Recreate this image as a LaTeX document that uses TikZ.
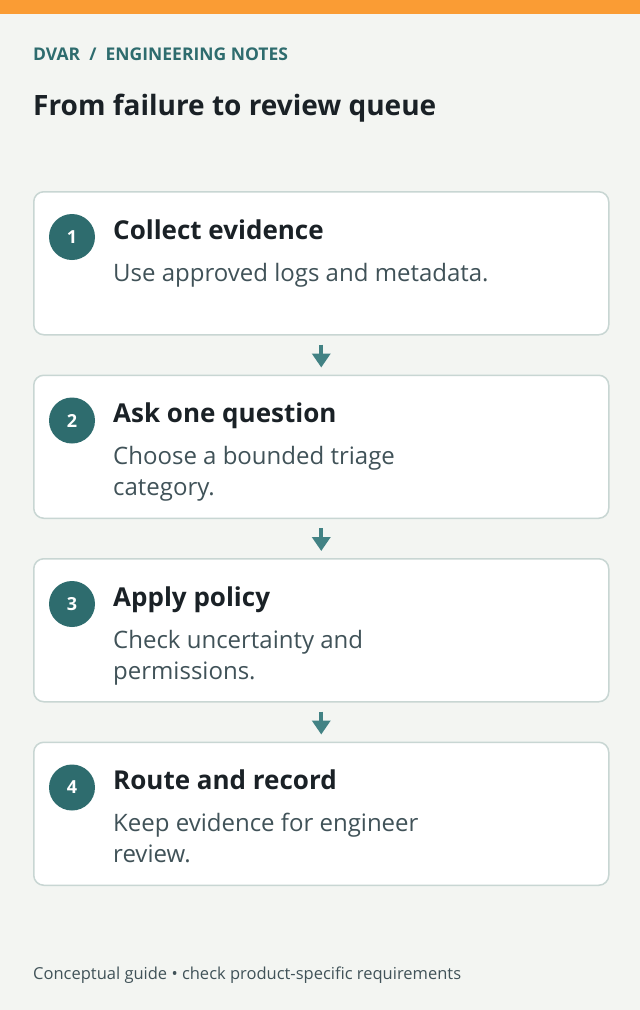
\documentclass[tikz,border=0pt]{standalone}
\usepackage{fontspec}
\setmainfont{Open Sans}
\usepackage{xcolor}
\definecolor{mpaper}{RGB}{243,245,242}
\definecolor{morange}{RGB}{250,156,52}
\definecolor{mteal}{RGB}{46,108,110}
\definecolor{marrow}{RGB}{66,130,132}
\definecolor{mink}{RGB}{26,33,38}
\definecolor{mgray}{RGB}{64,82,88}
\definecolor{mborder}{RGB}{200,214,211}
\usepackage{tikz}
\usetikzlibrary{positioning}
\usetikzlibrary{arrows.meta}

\begin{document}
\begin{tikzpicture}[x=1pt, y=-1pt,
    card/.style={draw=mborder, line width=1.5pt, fill=white, rounded corners=10pt, minimum width=575pt, minimum height=143pt, inner sep=0pt},
    badge/.style={circle, fill=mteal, minimum size=46pt, inner sep=0pt, text=white, font=\bfseries\fontsize{18}{18}\selectfont},
    heading/.style={anchor=base west, inner sep=0pt, text=mink, font=\bfseries\fontsize{26}{30}\selectfont},
    body/.style={anchor=base west, inner sep=0pt, align=left, text=mgray, font=\fontsize{24}{31}\selectfont},
    arrow/.style={-{Triangle[width=18pt, length=14pt]}, line width=4pt, draw=marrow, shorten <=9pt, shorten >=7pt},
    node distance=39pt,
]
\fill[mpaper] (0,0) rectangle (640,1010);
\fill[morange] (0,0) rectangle (640,14);
\useasboundingbox (0,0) rectangle (640,1010);

\node[anchor=base west, inner sep=0pt, text=mteal, font=\bfseries\fontsize{17.5}{18}\selectfont] (crumb) at (33,60) {DVAR\ \ /\ \ ENGINEERING NOTES};
\node[anchor=base west, inner sep=0pt, text=mink, font=\bfseries\fontsize{28}{32}\selectfont] (title) at (33,115) {From failure to review queue};

\node[card, anchor=north west] (card1) at (33,191) {};
\node[card, below=of card1] (card2) {};
\node[card, below=of card2] (card3) {};
\node[card, below=of card3] (card4) {};

\node[badge] (badge1) at ([xshift=39pt, yshift=-46pt]card1.north west) {1};
\node[badge] (badge2) at ([xshift=39pt, yshift=-46pt]card2.north west) {2};
\node[badge] (badge3) at ([xshift=39pt, yshift=-46pt]card3.north west) {3};
\node[badge] (badge4) at ([xshift=39pt, yshift=-46pt]card4.north west) {4};

\node[heading] (head1) at ([xshift=80pt, yshift=-48pt]card1.north west) {Collect evidence};
\node[heading] (head2) at ([xshift=80pt, yshift=-48pt]card2.north west) {Ask one question};
\node[heading] (head3) at ([xshift=80pt, yshift=-48pt]card3.north west) {Apply policy};
\node[heading] (head4) at ([xshift=80pt, yshift=-48pt]card4.north west) {Route and record};

% two-line texts sit on the baseline of their last line
\node[body] (text1) at ([xshift=80pt, yshift=-90pt]card1.north west) {Use approved logs and metadata.};
\node[body] (text2) at ([xshift=80pt, yshift=-121pt]card2.north west) {Choose a bounded triage\\category.};
\node[body] (text3) at ([xshift=80pt, yshift=-121pt]card3.north west) {Check uncertainty and\\permissions.};
\node[body] (text4) at ([xshift=80pt, yshift=-121pt]card4.north west) {Keep evidence for engineer\\review.};

\draw[arrow] (card1) -- (card2);
\draw[arrow] (card2) -- (card3);
\draw[arrow] (card3) -- (card4);

\node[anchor=base west, inner sep=0pt, text=mgray, font=\fontsize{16.5}{18}\selectfont] (footer) at (33,979) {Conceptual guide • check product-specific requirements};
\end{tikzpicture}
\end{document}
